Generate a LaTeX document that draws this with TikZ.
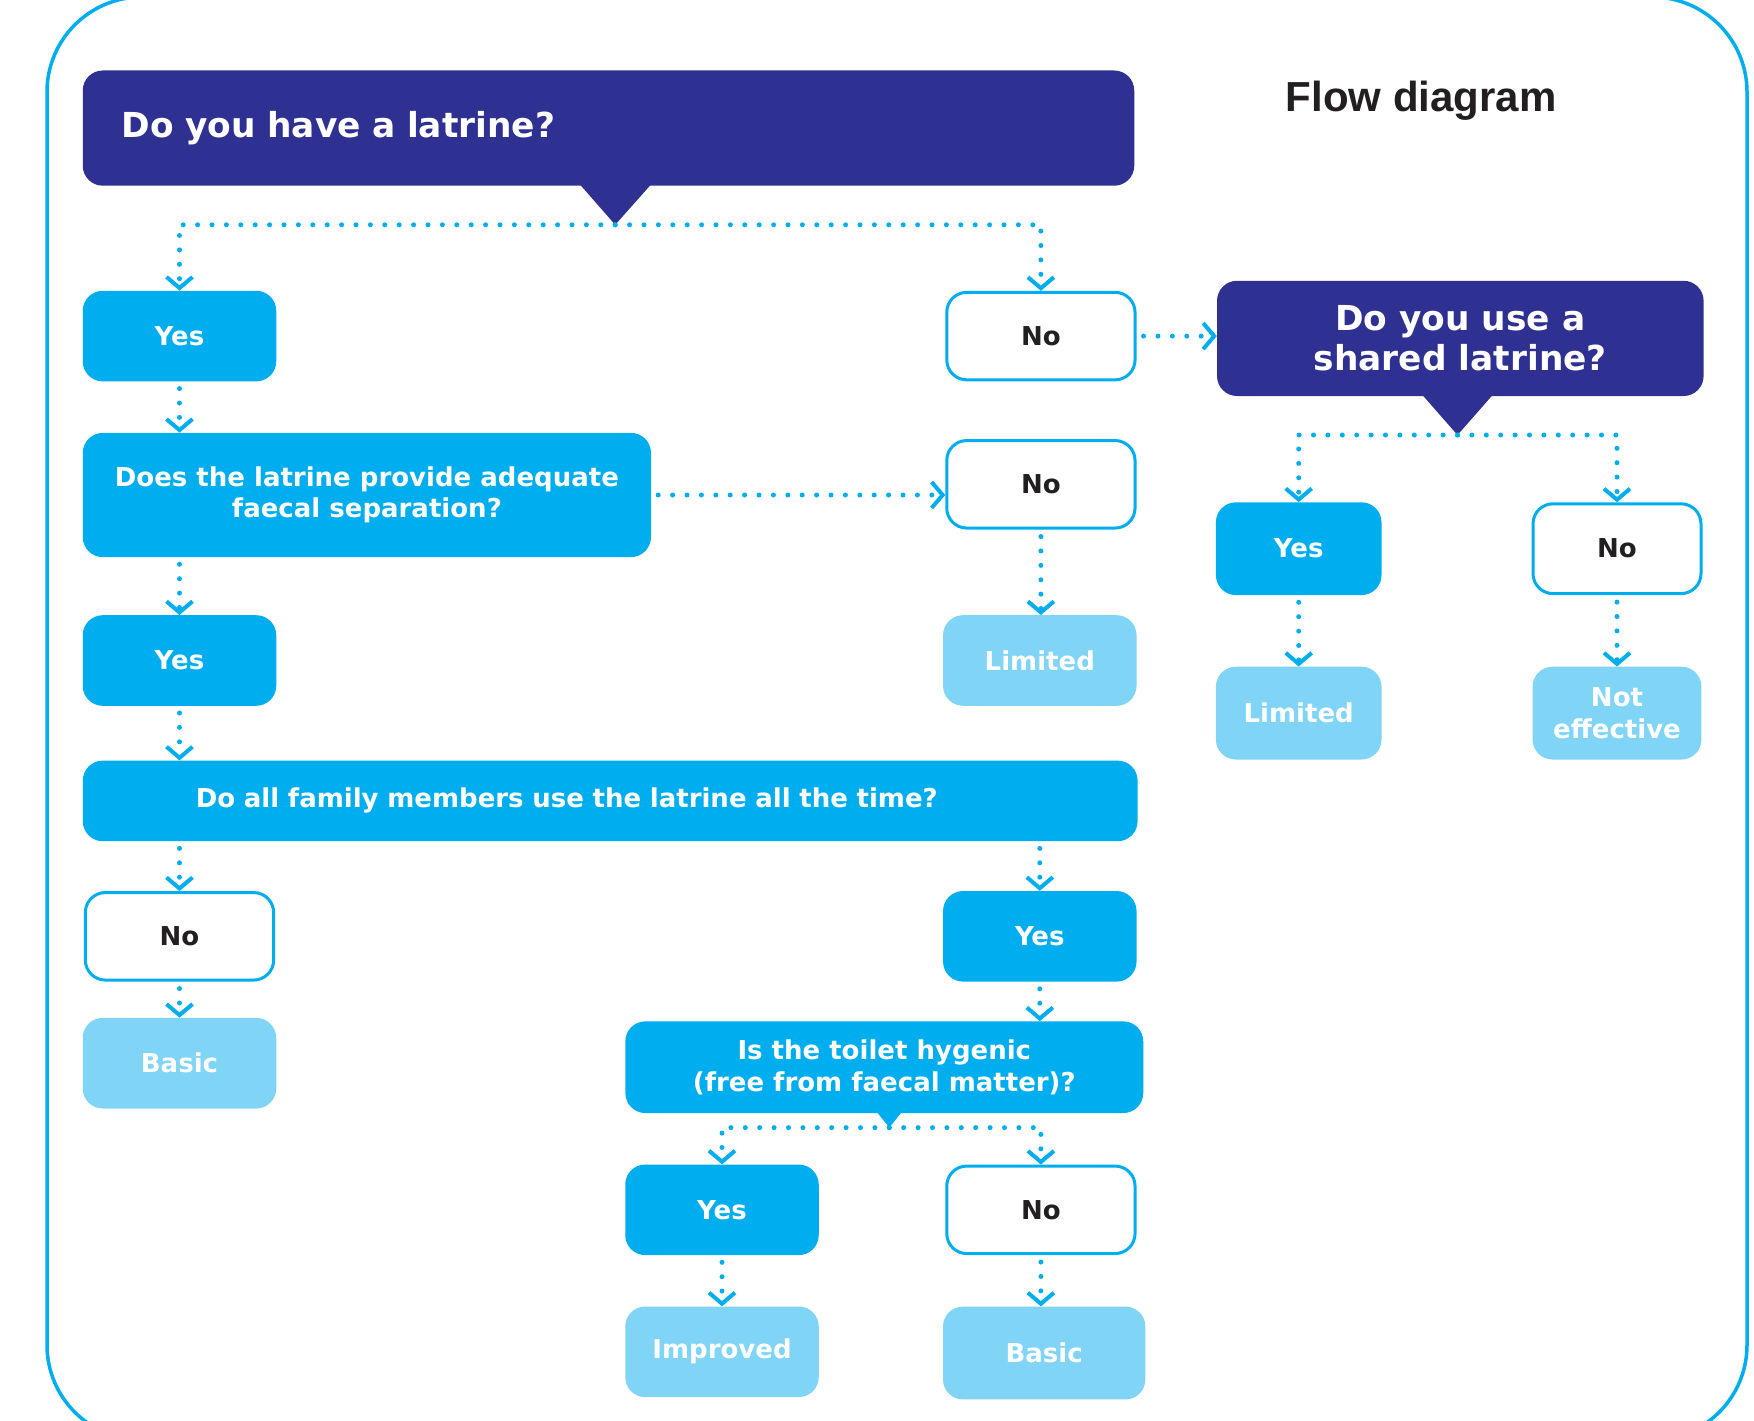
\documentclass[tikz,border=0pt]{standalone}
\usepackage{fontspec}
\setmainfont{DejaVu Sans}
\newfontfamily\titlefont{Liberation Sans}
\usetikzlibrary{arrows.meta}

\definecolor{navy}{HTML}{2E3192}
\definecolor{sky}{HTML}{00AEEF}
\definecolor{pale}{HTML}{80D4F6}
\definecolor{ink}{HTML}{231F20}

\tikzset{
  box/.style={rounded corners=20pt, align=center, inner sep=0pt,
    font=\bfseries\fontsize{26}{31.3}\selectfont},
  head/.style={box, fill=navy, text=white, font=\bfseries\fontsize{34.4}{40.5}\selectfont},
  ask/.style={box, fill=sky, text=white},
  yesbox/.style={box, fill=sky, text=white, minimum width=193.5pt, minimum height=90.6pt},
  nobox/.style={box, draw=sky, line width=3pt, fill=white, text=ink, minimum width=188.3pt, minimum height=87.5pt},
  result/.style={box, fill=pale, text=white, minimum width=193.5pt, minimum height=90.6pt},
  split/.style={sky, line width=5pt, line cap=round, dash pattern=on 0pt off 14.4pt,
    -{Straight Barb[length=11pt,width=26pt,line width=4pt]}},
  flow/.style={split, shorten <=7pt},
}

\begin{document}
\begin{tikzpicture}[x=1pt,y=-1pt]
	\useasboundingbox (0,0) rectangle (1754,1421);
	\draw[sky, line width=3.5pt, rounded corners=95pt] (47,-3) rectangle (1747,1440);
	\node[font=\titlefont\bfseries\fontsize{42}{48}\selectfont, text=ink, anchor=base] (title) at (1421.2,111.9) {Flow diagram};

	% first question
	\node[head, align=left, text width=973.5pt, inner xsep=39pt, minimum height=115.2pt] (q1) at (608.5,128.1) {Do you have a latrine?};
	\coordinate (q1tip) at (615.2,224.8);
	\fill[navy] (576,180) -- (655,180) -- (q1tip) -- cycle;
	\node[yesbox] (yes1) at (179.5,336.1) {Yes};
	\node[nobox] (no1) at (1040.9,336.1) {No};

	% shared latrine
	\node[head, minimum width=486.6pt, minimum height=115.2pt] (q2) at (1460.3,338.4) {Do you use a\\shared latrine?};
	\coordinate (q2tip) at (1457.5,435);
	\fill[navy] (1418,390) -- (1497,390) -- (q2tip) -- cycle;
	\node[yesbox, minimum width=165.6pt, minimum height=92.8pt] (sy) at (1298.7,548.7) {Yes};
	\node[nobox, minimum width=168pt, minimum height=89.8pt] (sn) at (1617,548.7) {No};
	\node[result, minimum width=165.6pt, minimum height=92.8pt] (slim) at (1298.7,713.1) {Limited};
	\node[result, minimum width=168.9pt, minimum height=92.8pt] (snot) at (1617,713.1) {Not\\effective};

	% faecal separation
	\node[ask, minimum width=568.2pt, minimum height=124.2pt] (q3) at (366.9,495) {Does the latrine provide adequate\\faecal separation?};
	\node[nobox] (sepno) at (1040.9,484.3) {No};
	\node[result] (seplim) at (1039.8,660.5) {Limited};
	\node[yesbox] (sepyes) at (179.5,660.5) {Yes};

	% family members
	\node[ask, align=left, text width=828.8pt, inner xsep=113pt, minimum height=80.6pt] (q4) at (610.2,800.9) {Do all family members use the latrine all the time?};
	\node[nobox] (fno) at (179.5,936.3) {No};
	\node[yesbox] (fyes) at (1039.8,936.3) {Yes};
	\node[result] (fbasic) at (179.5,1063.2) {Basic};

	% hygiene
	\node[ask, minimum width=517.9pt, minimum height=91.7pt] (q5) at (884.3,1067.2) {Is the toilet hygenic\\(free from faecal matter)?};
	\coordinate (q5tip) at (889.3,1127.6);
	\fill[sky] (873.6,1108) -- (905,1108) -- (q5tip) -- cycle;
	\node[yesbox] (tyes) at (722,1209.8) {Yes};
	\node[nobox] (tno) at (1040.9,1209.8) {No};
	\node[result] (timp) at (722,1351.8) {Improved};
	\node[result, minimum width=202.4pt, minimum height=92.9pt] (tbasic) at (1044.2,1353) {Basic};

	% connectors
	\draw[split] (q1tip) -| (yes1);
	\draw[split] (q1tip) -| (no1);
	\draw[flow] (no1.east) -- (no1.east -| q2.west);
	\draw[split] (q2tip) -| (sy);
	\draw[split] (q2tip) -| (sn);
	\draw[flow] (sy) -- (slim);
	\draw[flow] (sn) -- (snot);
	\draw[flow] (yes1.south) -- (yes1.south |- q3.north);
	\draw[flow] (q3.east) -- (q3.east -| sepno.west);
	\draw[flow] (sepno.south) -- (sepno.south |- seplim.north);
	\draw[flow] (sepyes |- q3.south) -- (sepyes);
	\draw[flow] (sepyes.south) -- (sepyes.south |- q4.north);
	\draw[flow] (fno |- q4.south) -- (fno);
	\draw[flow] (fyes |- q4.south) -- (fyes);
	\draw[flow] (fno) -- (fbasic);
	\draw[flow] (fyes.south) -- (fyes.south |- q5.north);
	\draw[split] (q5tip) -| (tyes);
	\draw[split] (q5tip) -| (tno);
	\draw[flow] (tyes) -- (timp);
	\draw[flow] (tno.south) -- (tno.south |- tbasic.north);
\end{tikzpicture}
\end{document}
